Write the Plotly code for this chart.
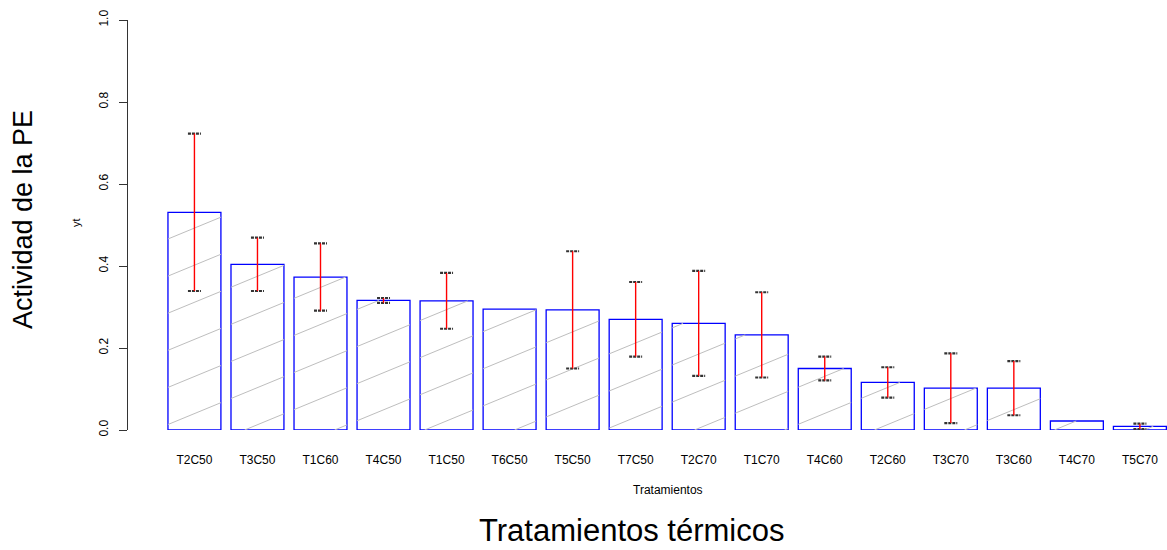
import plotly.graph_objects as go

# ---------------- data ----------------
tratamientos = ["T2C50", "T3C50", "T1C60", "T4C50", "T1C50", "T6C50", "T5C50", "T7C50",
                "T2C70", "T1C70", "T4C60", "T2C60", "T3C70", "T3C60", "T4C70", "T5C70"]
actividad = [0.531, 0.404, 0.373, 0.316, 0.315, 0.295, 0.293, 0.270,
             0.260, 0.232, 0.150, 0.116, 0.102, 0.102, 0.022, 0.009]
error = [0.192, 0.065, 0.082, 0.006, 0.068, None, 0.143, 0.091,
         0.128, 0.104, 0.029, 0.037, 0.085, 0.066, None, 0.0065]
y_ticks = [0.0, 0.2, 0.4, 0.6, 0.8, 1.0]

# ---------------- style ----------------
FONT = "Liberation Sans, Arial, sans-serif"
W, H = 1167, 550
ML, MR, MT, MB = 128, 0, 20, 120
X_RANGE = [-1.054, 15.43]
BAR_W = 0.84
CAP_HALF = 0.103
HATCH_SLOPE = 0.0634     # data units of y per x unit
HATCH_GAP = 0.0905       # vertical spacing of hatch lines
HATCH_PHASE = 0.040

x_pos = list(range(len(tratamientos)))

fig = go.Figure()

# hatch lines clipped to each bar
hx, hy = [], []
for xi, h in zip(x_pos, actividad):
    xl, xr = xi - BAR_W / 2, xi + BAR_W / 2
    k_min = int((0 - HATCH_SLOPE * xr - HATCH_PHASE) // HATCH_GAP) - 1
    k_max = int((h - HATCH_SLOPE * xl - HATCH_PHASE) // HATCH_GAP) + 1
    for k in range(k_min, k_max + 1):
        b = HATCH_PHASE + k * HATCH_GAP
        x0 = max(xl, (0 - b) / HATCH_SLOPE)
        x1 = min(xr, (h - b) / HATCH_SLOPE)
        if x1 - x0 > 1e-6:
            hx += [x0, x1, None]
            hy += [b + HATCH_SLOPE * x0, b + HATCH_SLOPE * x1, None]
fig.add_trace(go.Scatter(x=hx, y=hy, mode="lines",
                         line=dict(color="#bebebe", width=1),
                         hoverinfo="skip", showlegend=False))

# bars
fig.add_trace(go.Bar(x=x_pos, y=actividad, width=BAR_W,
                     marker=dict(color="rgba(255,255,255,0)",
                                 line=dict(color="#0000ff", width=1.3)),
                     showlegend=False))

# error bars: red stems with dashed dark caps
ex, ey = [], []
cx, cy = [], []
for xi, m, e in zip(x_pos, actividad, error):
    if e is None:
        continue
    ex += [xi, xi, None]
    ey += [m - e, m + e, None]
    for yy in (m - e, m + e):
        cx += [xi - CAP_HALF, xi + CAP_HALF, None]
        cy += [yy, yy, None]
fig.add_trace(go.Scatter(x=cx, y=cy, mode="lines",
                         line=dict(color="#333333", width=2.2, dash="3px,1px"),
                         hoverinfo="skip", showlegend=False))
fig.add_trace(go.Scatter(x=ex, y=ey, mode="lines",
                         line=dict(color="#ff0000", width=1.4),
                         hoverinfo="skip", showlegend=False))

pw = W - ML - MR
ph = H - MT - MB


def px(xp):
    return (xp - ML) / pw


def py(yp):
    return (H - MB - yp) / ph


annotations = [
    dict(text="Tratamientos", x=px(668), y=py(490), font=dict(size=12), yanchor="middle"),
    dict(text="Tratamientos térmicos", x=px(632), y=py(550), font=dict(size=31), yanchor="bottom"),
    dict(text="yt", x=px(76), y=py(223), font=dict(size=11), textangle=-90, yanchor="middle"),
    dict(text="Actividad de la PE", x=px(23), y=py(220), font=dict(size=27), textangle=-90,
         yanchor="middle"),
]
for a in annotations:
    a.update(xref="paper", yref="paper", showarrow=False, xanchor="center")
    a["font"]["family"] = FONT
    a["font"]["color"] = "black"

fig.update_layout(
    width=W, height=H,
    margin=dict(l=ML, r=MR, t=MT, b=MB, pad=0),
    paper_bgcolor="white", plot_bgcolor="white",
    font=dict(family=FONT, size=12, color="black"),
    showlegend=False,
    annotations=annotations,
    xaxis=dict(range=X_RANGE, tickvals=x_pos, ticktext=tratamientos,
               showgrid=False, zeroline=False, showline=False, ticks="",
               ticklabelstandoff=21, tickfont=dict(size=12)),
    yaxis=dict(range=[0, 1], tickvals=y_ticks, tickformat=".1f",
               showgrid=False, zeroline=False, showline=True,
               linecolor="#333333", linewidth=1,
               ticks="outside", ticklen=8, tickcolor="#333333",
               tickangle=-90, ticklabelstandoff=6, tickfont=dict(size=12)),
)

fig.write_html("out.html", config={"displayModeBar": False},
               post_script="document.body.style.margin='0px';document.body.style.overflow='hidden';")
